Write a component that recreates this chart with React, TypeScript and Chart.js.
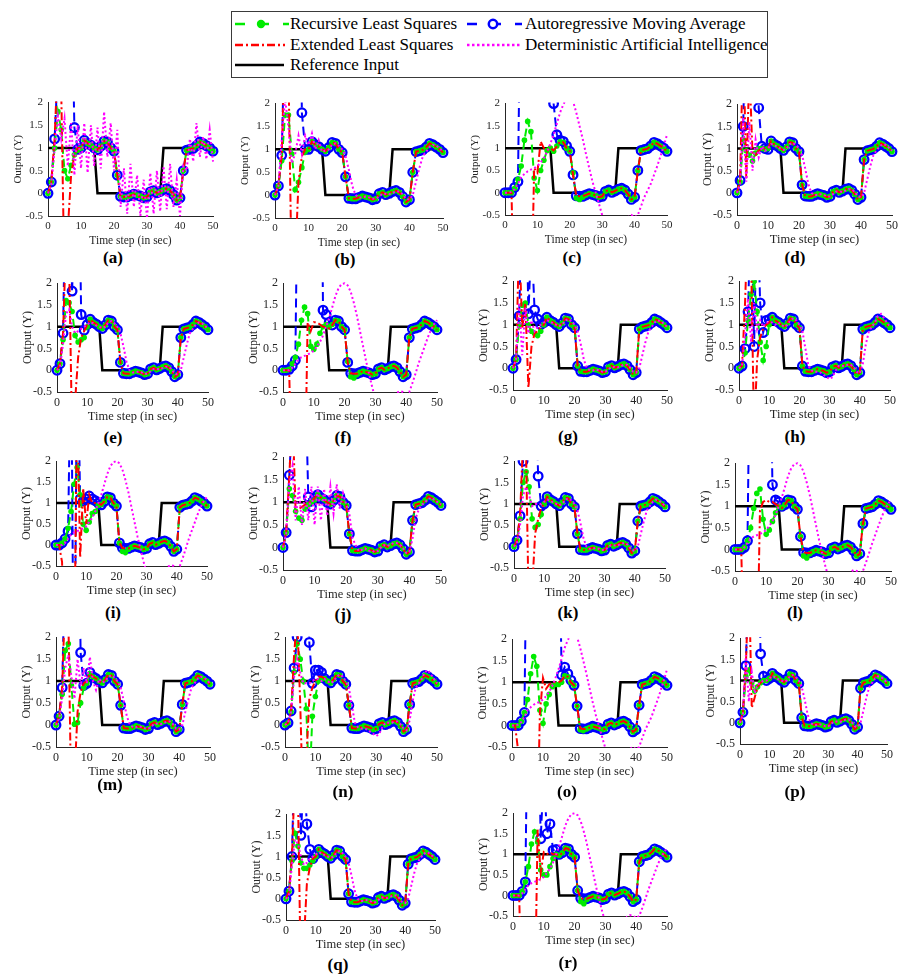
import React, { useEffect, useRef } from "react";
import { Chart, registerables } from "chart.js";

Chart.register(...registerables);

// ---------------- DATA ----------------
const TIME = [0,1,2,3,4,5,6,7,8,9,10,11,12,13,14,15,16,17,18,19,20,21,22,23,24,25,26,27,28,29,30,31,32,33,34,35,36,37,38,39,40,41,42,43,44,45,46,47,48,49,50];
const X_TICKS = [0, 10, 20, 30, 40, 50];
const Y_TICKS = [-0.5, 0, 0.5, 1, 1.5, 2];

const REFERENCE = [1,1,1,1,1,1,1,1,1,1,1,1,1,1,1, 0,0,0,0,0,0,0,0,0,0,0,0,0,0,0,0,0,0,0,0, 1,1,1,1,1,1,1,1,1,1,1,1,1,1,1,1];

// converged closed-loop response shared by RLS / ARMA / ELS after the transient
const CONVERGED = [0,0.2,0.85,1.1,1.05,1.0,0.98,1.0,1.0,0.96,1.0,
  1.17,1.1,1.06,1.0,0.96,1.04,1.15,1.13,1.0,0.93,
  0.4,-0.07,-0.08,-0.08,-0.05,-0.02,-0.04,-0.06,-0.1,-0.08,
  0.03,0.06,0.01,0.04,0.08,0.1,0.06,-0.03,-0.15,-0.1,
  0.5,0.95,0.97,0.99,1.05,1.13,1.1,1.05,1.0,0.93];
// value at t = 21 and t = 41 for each group of three panels
const DROP_21 = [0.4, 0.18, 0.05, 0.3, 0.45, 0.12];
const RISE_41 = [0.5, 0.75, 0.9, 0.6, 0.47, 0.82];

// DAI responses
const DAI_LAG = [0,0.1,0.6,1.2,1.3,1.1,0.95,0.95,1.0,1.0,1.05,
  1.1,1.08,1.03,1.0,0.97,1.0,1.1,1.13,1.08,1.0,
  0.85,0.55,0.2,0.0,-0.05,-0.05,-0.03,-0.05,-0.08,-0.08,
  -0.03,0.03,0.03,0.02,0.05,0.08,0.08,0.02,-0.08,-0.1,
  0.0,0.3,0.6,0.85,0.95,1.05,1.1,1.08,1.02,0.95];
const DAI_OVER = [0,0.05,0.8,1.6,0.6,1.5,0.9,1.1,0.95,1.05,1.05,
  1.05,1.0,1.05,1.0,0.95,1.0,1.1,1.15,1.1,1.0,
  0.85,0.45,0.05,-0.05,-0.08,-0.08,-0.1,-0.15,-0.2,-0.25,
  -0.2,-0.05,0.05,0.05,0.05,0.08,0.08,0.02,-0.08,-0.12,
  0.1,0.55,0.85,0.95,1.05,1.2,1.25,1.15,1.05,0.95];
const DAI_A = [0,0.2,1.0,1.7,1.2,1.65,0.6,1.55,0.4,1.5,0.55,
  1.55,0.45,1.5,0.6,1.45,0.55,1.8,0.8,1.55,0.5,
  1.4,-0.3,0.55,-0.45,0.65,-0.3,0.4,-0.5,0.3,-0.55,
  0.45,-0.45,0.5,-0.4,0.6,-0.35,0.65,-0.3,0.3,-0.5,
  0.6,0.5,1.2,0.7,1.55,0.8,1.25,0.75,1.4,0.7];
const DAI_J = [0,0.3,1.4,1.8,0.6,1.35,0.5,1.3,0.6,1.35,0.5,
  1.35,0.6,1.3,0.7,1.35,0.75,1.4,0.85,1.2,0.95,
  0.75,0.2,0.05,-0.08,-0.05,-0.02,-0.08,-0.06,-0.1,-0.08,
  0.0,0.05,0.03,0.06,0.1,0.1,0.06,-0.02,-0.12,-0.1,
  0.2,0.65,0.85,0.95,1.0,1.08,1.1,1.05,1.0,0.95];
const WAVE_C = [0,0,0.02,0.08,0.2,0.35,0.42,0.48,0.52,0.55,0.6,
  0.68,0.78,0.92,1.1,1.3,1.55,1.8,1.98,2.12,2.15,
  2.05,1.8,1.5,1.2,0.87,0.55,0.25,0.0,-0.25,-0.5,
  -0.72,-0.88,-0.95,-0.95,-0.88,-0.78,-0.65,-0.55,-0.5,-0.55,
  -0.5,-0.3,-0.1,0.05,0.2,0.4,0.6,0.82,1.05,1.3];
const WAVE_F = [0,0,0,0.05,0.15,0.25,0.3,0.33,0.36,0.4,0.45,
  0.55,0.65,0.8,1.0,1.2,1.45,1.7,1.88,1.98,2.0,
  1.95,1.8,1.55,1.25,0.9,0.55,0.2,-0.1,-0.4,-0.65,
  -0.82,-0.92,-0.95,-0.9,-0.8,-0.65,-0.52,-0.48,-0.5,-0.55,
  -0.5,-0.3,-0.08,0.15,0.35,0.55,0.75,0.92,1.05,1.15];

// transients per panel (t = 0, 1, 2, ...), then the group's converged response
const RLS_A = [0,0.25,1.0,1.8,1.4,0.5,0.32,0.62,0.85,0.95,1.0];
const ARMA_A = [0,0.25,1.2,2.8,3.5,3.3,3.0,5.0,1.45,0.97,1.0];
const ELS_A = [0,0.25,1.2,3.0,2.3,-2.0,-0.8,0.4,0.85,1.0,1.0];

const RLS_B = [0,0.2,0.75,1.75,1.75,0.9,0.12,0.28,0.6,0.95,1.0];
const ARMA_B = [0,0.2,0.87,4,5,5,4.5,8,1.8,1.0,1.0];
const ELS_B = [0,0.2,0.87,3.5,2.8,-2.0,-1.5,0.3,0.85,1.0,1.0];
const DAI_B = [0,0.2,1.2,2.1,1.5,0.7,0.9,1.3,0.9,1.3,1.1,1.35,1.0,1.2,0.95];

const RLS_C = [0,0,0,0.1,0.3,0.6,1.18,1.6,1.37,0.33,0.05,0.5,0.73,0.95,1.0,0.93,1.05,1.15,1.13,1.0,0.93,0.45,-0.12,-0.15,-0.1];
const ARMA_C = [0,0,0,0.12,0.25,6,8,8,8,8,8,8,8,8,8,2.0,1.3,1.18,1.15,1.05,0.93];
const ELS_C = [0,0,0,-3,-4,-4,-4,-3.5,-3,0.55,0.45,1.15,1.0,0.95,1.0,0.95];

const RLS_D = [0,0.25,1.2,0.95,0.85,0.72,0.9,1.0,1.0,0.98,1.0];
const ARMA_D = [0,0.28,1.5,5,6,6,5,1.92,1.05,1.0,0.98];
const ELS_D = [0,0.28,3.5,0.3,2.8,0.9,0.85,0.95,1.0,1.0,1.0];
const DAI_D = [0,0.2,1.7,0.25,1.6,0.5,1.2,0.8,1.05,0.95,1.0];

const RLS_E = [0,0.15,0.7,1.6,1.55,1.35,0.8,0.65,0.7,0.75,1.0];
const ARMA_E = [0,0.15,0.85,5,5,1.82,4,6,1.28,0.92,1.05];
const ELS_E = [0,0.15,0.85,3.0,2.5,-1.5,-0.7,0.3,0.75,0.9,1.05];
const DAI_E = [0,0.1,0.6,1.3,1.4,1.0,0.85,0.9,0.95,1.0,1.05];

const RLS_F = [0,0,0.02,0.15,0.3,0.6,1.15,1.45,1.3,0.55,0.48,0.6,0.85,1.0,1.05,1.0,1.05,1.15,1.13,1.0,0.93,0.2,-0.15,-0.18,-0.1];
const ARMA_F = [0,0,0.02,0.1,0.23,6,8,8,8,8,8,8,8,1.38,1.28,1.1];
const ELS_F = [0,0,0,-3,-4,-4,-4,-3,1.1,0.9,1.1,1.1,1.05,1.0];

const RLS_G = [0,0.2,1.0,1.45,1.5,1.0,0.85,0.8,0.75,0.85,1.0];
const ARMA_G = [0,0.2,1.2,4,5,1.25,3,1.34,1.13,1.0,1.05];
const ELS_G = [0,0.2,3.0,0.9,1.5,-0.45,0.5,0.8,0.85,0.95,1.0];
const DAI_G = [0,0.2,1.5,0.3,1.4,0.8,1.1,0.85,0.95,1.0,1.05];

const RLS_H = [0,0.05,0.35,1.1,1.7,2.0,1.3,0.6,0.18,0.5,1.0];
const ARMA_H = [0,0.05,0.45,1.3,4,0.5,4,1.5,0.82,1.1,1.12];
const ELS_H = [0,0.05,1.5,3.5,2.5,-1.5,0.2,0.7,0.9,1.0,1.05];
const DAI_H = [0,0.05,0.8,1.6,0.6,1.5,0.9,1.1,0.95,1.05,1.05];

const RLS_I = [0,0,0.05,0.15,0.4,0.8,1.45,1.85,1.2,0.5,0.35,0.55,0.75,0.8,0.95,0.97,1.04,1.15,1.13,1.0,0.93,0.05,-0.15,-0.18,-0.1];
const ARMA_I = [0,0,0.05,0.15,0.33,5,-5,5,1.1,1.05,1.1];
const ELS_I = [0,0,-0.4,-3,-3,-3,-3,3.5,-0.3,1.35,0.5,1.2,1.0,1.0];

const RLS_J = [0,0.33,1.3,1.15,0.8,0.65,0.6,0.85,0.95,1.0,1.05];
const ARMA_J = [0,0.33,1.6,3,4,5,5,4,1.12,0.9,1.1];
const ELS_J = [0,0.33,1.6,3.0,0.8,0.85,0.9,0.95,1.0,1.0,1.1];

const RLS_K = [0,0.15,0.65,1.5,1.75,1.4,0.65,0.45,0.52,0.75,1.0];
const ARMA_K = [0,0.15,0.72,2.0,4,5,5,4,1.65,0.95,1.0];
const ELS_K = [0,0.15,0.72,2.5,2.2,-2.0,-1.0,0.3,0.65,0.9,1.0];
const DAI_K = [0,0.1,0.5,1.2,1.4,1.2,0.95,1.0,1.0,1.0,1.05];

const RLS_L = [0,0,0,0.05,0.2,0.5,0.95,1.3,1.4,0.7,0.35,0.45,0.65,0.85,1.0,0.97,1.04,1.15,1.13,1.0,0.93,0.3,-0.15,-0.2,-0.1];
const ARMA_L = [0,0,0,0.05,0.2,6,8,8,8,8,8,6,1.5,1.15,1.1,1.0];
const ELS_L = [0,0,0,-3,-4,-4,-4,-3,0.9,1.1,1.15,1.1,1.1,1.05,1.0];

const RLS_M = [0,0.2,0.7,1.7,1.85,0.9,0.02,0.05,0.5,0.85,0.95];
const ARMA_M = [0,0.2,0.85,4,5,5,5,6,1.65,0.9,0.95,1.2];
const ELS_M = [0,0.2,0.85,3.0,2.5,-2.0,-1.2,0.3,0.75,0.95,1.0];
const DAI_M = [0,0.15,0.6,1.3,1.6,1.1,0.6,1.5,0.9,1.3,0.95,1.55,1.0,0.8,1.05];

const RLS_N = [0,0.05,0.3,1.2,1.85,1.5,1.0,0.37,-1.5,0.2,0.65,1.0,1.05];
const ARMA_N = [0,0.05,0.32,1.3,2.0,5,5,5,1.88,0.95,1.25,1.25,1.2];
const ELS_N = [0,0.05,0.3,1.6,2.5,0.5,-2.0,-0.8,0.6,0.85,1.0,1.1];
const DAI_N = [0,0.05,0.3,1.1,1.5,1.2,0.95,0.95,0.95,1.0,1.05];

const RLS_O = [0,0,0,0.1,0.3,0.6,1.2,1.6,1.37,0.35,0.05,0.5,0.72,0.9,0.95,0.95,1.0,1.15,1.13,1.0,0.93,0.45,-0.1,-0.12,-0.08];
const ARMA_O = [0,0,0,0.1,0.3,6,8,8,8,8,8,8,8,8,8,6,1.17,1.35,1.2,1.05,0.93];
const ELS_O = [0,0,-0.6,-3,-4,-4,-4,-4,-3,0.3,1.1,0.85,0.95,1.0,1.0,1.0];

const RLS_P = [0,0.25,1.1,1.25,0.95,0.75,0.85,0.95,1.0,1.0,1.05];
const ARMA_P = [0,0.25,1.35,4,5,5,5,1.63,1.1,1.0,1.05];
const ELS_P = [0,0.25,1.35,3.5,0.35,0.6,0.85,0.95,1.0,1.0,1.0];
const DAI_P = [0,0.2,1.6,0.5,1.2,0.7,0.9,0.95,1.0,1.0,1.05];

const RLS_Q = [0,0.18,0.9,1.55,1.25,0.85,0.72,0.72,0.8,0.9,1.0];
const ARMA_Q = [0,0.18,1.0,4,4,1.5,3,1.77,1.17,0.95,1.05];
const ELS_Q = [0,0.18,1.0,3.0,2.5,-2.0,-1.0,0.35,0.75,0.95,1.0];
const DAI_Q = [0,0.1,0.8,1.4,1.3,1.0,0.8,0.85,0.95,1.0,1.05];

const RLS_R = [0,0,0,0.1,0.33,0.7,1.25,1.55,1.3,0.62,0.5,0.5,0.7,0.9,1.0,0.97,1.04,1.15,1.13,1.0,0.93,0.12,-0.15,-0.2,-0.1];
const ARMA_R = [0,0,0,0.1,0.33,6,8,8,5,1.38,3,1.5,1.74,1.1,1.12,1.0];
const ELS_R = [0,0,0,-3,-4,-4,-4,-3,1.6,0.55,1.05,1.0,1.05,1.0];

type PanelData = { id: string; group: number; rls: number[]; arma: number[]; els: number[]; dai: number[]; daiTail: number[] };

const PANELS: PanelData[] = [
  { id: "a", group: 0, rls: RLS_A, arma: ARMA_A, els: ELS_A, dai: DAI_A, daiTail: DAI_A },
  { id: "b", group: 0, rls: RLS_B, arma: ARMA_B, els: ELS_B, dai: DAI_B, daiTail: DAI_LAG },
  { id: "c", group: 0, rls: RLS_C, arma: ARMA_C, els: ELS_C, dai: WAVE_C, daiTail: WAVE_C },
  { id: "d", group: 1, rls: RLS_D, arma: ARMA_D, els: ELS_D, dai: DAI_D, daiTail: DAI_LAG },
  { id: "e", group: 1, rls: RLS_E, arma: ARMA_E, els: ELS_E, dai: DAI_E, daiTail: DAI_LAG },
  { id: "f", group: 1, rls: RLS_F, arma: ARMA_F, els: ELS_F, dai: WAVE_F, daiTail: WAVE_F },
  { id: "g", group: 2, rls: RLS_G, arma: ARMA_G, els: ELS_G, dai: DAI_G, daiTail: DAI_LAG },
  { id: "h", group: 2, rls: RLS_H, arma: ARMA_H, els: ELS_H, dai: DAI_H, daiTail: DAI_OVER },
  { id: "i", group: 2, rls: RLS_I, arma: ARMA_I, els: ELS_I, dai: WAVE_F, daiTail: WAVE_F },
  { id: "j", group: 3, rls: RLS_J, arma: ARMA_J, els: ELS_J, dai: DAI_J, daiTail: DAI_J },
  { id: "k", group: 3, rls: RLS_K, arma: ARMA_K, els: ELS_K, dai: DAI_K, daiTail: DAI_LAG },
  { id: "l", group: 3, rls: RLS_L, arma: ARMA_L, els: ELS_L, dai: WAVE_F, daiTail: WAVE_F },
  { id: "m", group: 4, rls: RLS_M, arma: ARMA_M, els: ELS_M, dai: DAI_M, daiTail: DAI_LAG },
  { id: "n", group: 4, rls: RLS_N, arma: ARMA_N, els: ELS_N, dai: DAI_N, daiTail: DAI_OVER },
  { id: "o", group: 4, rls: RLS_O, arma: ARMA_O, els: ELS_O, dai: WAVE_C, daiTail: WAVE_C },
  { id: "p", group: 5, rls: RLS_P, arma: ARMA_P, els: ELS_P, dai: DAI_P, daiTail: DAI_LAG },
  { id: "q", group: 5, rls: RLS_Q, arma: ARMA_Q, els: ELS_Q, dai: DAI_Q, daiTail: DAI_LAG },
  { id: "r", group: 5, rls: RLS_R, arma: ARMA_R, els: ELS_R, dai: WAVE_F, daiTail: WAVE_F },
];

// ---------------- LAYOUT (page pixels) ----------------
// l: y-axis x, r: right end of x-axis, t: y=2 level, b: y=-0.5 level, lx/ly: centre of "(x)" label, fs: font size
const LAYOUT = [
  { l: 48, r: 213, t: 99, b: 216, lx: 113, ly: 258, fs: 11 },
  { l: 275, r: 443, t: 100, b: 218, lx: 345, ly: 260, fs: 11 },
  { l: 505, r: 667, t: 100, b: 215, lx: 572, ly: 258, fs: 11 },
  { l: 737, r: 892, t: 100, b: 215, lx: 795, ly: 258, fs: 12 },
  { l: 57, r: 208, t: 279, b: 392, lx: 113, ly: 438, fs: 12 },
  { l: 283, r: 437, t: 279, b: 392, lx: 343, ly: 438, fs: 12 },
  { l: 513, r: 667, t: 277, b: 390, lx: 568, ly: 437, fs: 12 },
  { l: 739, r: 890, t: 277, b: 390, lx: 795, ly: 437, fs: 12 },
  { l: 56, r: 207, t: 457, b: 566, lx: 113, ly: 613, fs: 12 },
  { l: 283, r: 441, t: 453, b: 570, lx: 343, ly: 615, fs: 12 },
  { l: 514, r: 665, t: 457, b: 568, lx: 568, ly: 613, fs: 12 },
  { l: 735, r: 891, t: 459, b: 571, lx: 795, ly: 613, fs: 12 },
  { l: 56, r: 210, t: 633, b: 747, lx: 110, ly: 785, fs: 12 },
  { l: 285, r: 437, t: 633, b: 747, lx: 343, ly: 792, fs: 12 },
  { l: 512, r: 667, t: 635, b: 747, lx: 567, ly: 792, fs: 12 },
  { l: 740, r: 887, t: 634, b: 744, lx: 795, ly: 792, fs: 12 },
  { l: 286, r: 435, t: 810, b: 920, lx: 338, ly: 965, fs: 12 },
  { l: 513, r: 667, t: 809, b: 916, lx: 568, ly: 963, fs: 12 },
];

const YW = 36; // y-axis box width
const XH = 32; // x-axis box height
const PT = 8;
const PR = 10;

const FONT = "'Liberation Serif', 'Times New Roman', Times, serif";
const AXIS_COLOR = "#262626";
const GREEN = "rgb(0,235,0)";
const BLUE = "#0000ff";
const RED = "#ff0000";
const MAGENTA = "#ff00ff";

function compose(early: number[], tail: number[]): number[] {
  return tail.map((v, i) => (i < early.length ? early[i] : v));
}
function groupTail(g: number): number[] {
  return CONVERGED.map((v, i) => (i === 21 ? DROP_21[g] : i === 41 ? RISE_41[g] : v));
}
function pts(ys: number[]) {
  return ys.map((y, i) => ({ x: TIME[i], y }));
}

function buildConfig(p: PanelData, fs: number): any {
  const tail = groupTail(p.group);
  const clip = { left: 7, right: 7, top: 1, bottom: 1 };
  const common = { fill: false, tension: 0, clip, pointHoverRadius: 0 };
  return {
    type: "line",
    data: {
      datasets: [
        { ...common, label: "Deterministic Artificial Intelligence", data: pts(compose(p.dai, p.daiTail)), borderColor: MAGENTA, borderWidth: 2, borderDash: [2, 2.5], pointRadius: 0, order: 0 },
        { ...common, label: "Extended Least Squares", data: pts(compose(p.els, tail)), borderColor: RED, borderWidth: 2, borderDash: [8, 3, 2, 3], pointRadius: 0, order: 1 },
        { ...common, label: "Recursive Least Squares", data: pts(compose(p.rls, tail)), borderColor: GREEN, borderWidth: 2, borderDash: [8, 5], pointRadius: 2.8, pointBorderWidth: 0, pointBackgroundColor: GREEN, pointBorderColor: GREEN, order: 2 },
        { ...common, label: "Autoregressive Moving Average", data: pts(compose(p.arma, tail)), borderColor: BLUE, borderWidth: 2, borderDash: [9, 5], pointRadius: 4.3, pointBorderWidth: 2.3, pointBackgroundColor: "rgba(255,255,255,0)", pointBorderColor: BLUE, order: 3 },
        { ...common, label: "Reference Input", data: pts(REFERENCE), borderColor: "#000000", borderWidth: 2.5, pointRadius: 0, order: 4 },
      ],
    },
    options: {
      responsive: false,
      maintainAspectRatio: false,
      animation: false,
      devicePixelRatio: 1,
      events: [],
      layout: { padding: { top: PT, right: PR, left: 0, bottom: 0 } },
      plugins: { legend: { display: false }, tooltip: { enabled: false }, title: { display: false } },
      scales: {
        x: {
          type: "linear",
          min: 0,
          max: 50,
          grid: { display: false, drawTicks: false, tickLength: 0 },
          border: { display: true, color: AXIS_COLOR, width: 1 },
          afterBuildTicks: (s: any) => { s.ticks = X_TICKS.map((v) => ({ value: v })); },
          ticks: { padding: 4, color: AXIS_COLOR, maxRotation: 0, autoSkip: false, font: { family: FONT, size: fs }, callback: (v: any) => String(v) },
          title: { display: true, text: "Time step (in sec)", color: AXIS_COLOR, padding: { top: 0, bottom: 0 }, font: { family: FONT, size: fs + 0.5 } },
          afterFit: (s: any) => { s.height = XH; },
        },
        y: {
          type: "linear",
          min: -0.5,
          max: 2,
          grid: { display: false, drawTicks: false, tickLength: 0 },
          border: { display: true, color: AXIS_COLOR, width: 1 },
          afterBuildTicks: (s: any) => { s.ticks = Y_TICKS.map((v) => ({ value: v })); },
          ticks: { padding: 5, color: AXIS_COLOR, autoSkip: false, font: { family: FONT, size: fs }, callback: (v: any) => String(v) },
          title: { display: true, text: "Output (Y)", color: AXIS_COLOR, padding: { top: 0, bottom: 0 }, font: { family: FONT, size: fs } },
          afterFit: (s: any) => { s.width = YW; },
        },
      },
    },
  };
}

function Panel({ p, box }: { p: PanelData; box: any }) {
  const ref = useRef<HTMLCanvasElement>(null);
  const w = YW + (box.r - box.l) + PR;
  const h = PT + (box.b - box.t) + XH;
  useEffect(() => {
    if (!ref.current) return;
    const chart = new Chart(ref.current, buildConfig(p, box.fs));
    return () => chart.destroy();
  }, []);
  return (
    <>
      <canvas
        ref={ref}
        width={w}
        height={h}
        style={{ position: "absolute", left: box.l - YW, top: box.t - PT, width: w, height: h }}
      />
      <div
        style={{
          position: "absolute",
          left: box.lx,
          top: box.ly,
          transform: "translate(-50%, -50%)",
          fontFamily: FONT,
          fontWeight: "bold",
          fontSize: 17,
          lineHeight: "20px",
          whiteSpace: "nowrap",
          color: "#000",
        }}
      >
        ({p.id})
      </div>
    </>
  );
}

function Swatch({ kind }: { kind: string }) {
  const w = 56;
  const y = 8;
  let content: any = null;
  if (kind === "rls") {
    content = (
      <>
        <line x1={0} y1={y} x2={54} y2={y} stroke={GREEN} strokeWidth={2.5} strokeDasharray="10 14" />
        <circle cx={26} cy={y} r={4.2} fill={GREEN} />
      </>
    );
  } else if (kind === "arma") {
    content = (
      <>
        <line x1={0} y1={y} x2={55} y2={y} stroke={BLUE} strokeWidth={2.5} strokeDasharray="10 14" />
        <circle cx={26} cy={y} r={4.2} fill="#ffffff" stroke={BLUE} strokeWidth={2.5} />
      </>
    );
  } else if (kind === "els") {
    content = <line x1={0} y1={y} x2={50} y2={y} stroke={RED} strokeWidth={2.5} strokeDasharray="8 3 2 3" />;
  } else if (kind === "dai") {
    content = <line x1={0} y1={y} x2={54} y2={y} stroke={MAGENTA} strokeWidth={2.5} strokeDasharray="2.5 2.5" />;
  } else {
    content = <line x1={0} y1={y} x2={49} y2={y} stroke="#000000" strokeWidth={2.5} />;
  }
  return (
    <svg width={w} height={16} style={{ display: "block" }}>
      {content}
    </svg>
  );
}

const LEGEND_ITEMS = [
  { kind: "rls", text: "Recursive Least Squares", col: 0, row: 0 },
  { kind: "arma", text: "Autoregressive Moving Average", col: 1, row: 0 },
  { kind: "els", text: "Extended Least Squares", col: 0, row: 1 },
  { kind: "dai", text: "Deterministic Artificial Intelligence", col: 1, row: 1 },
  { kind: "ref", text: "Reference Input", col: 0, row: 2 },
];

function Legend() {
  const rowY = [24, 45, 65];
  const swX = [235, 467];
  const txX = [290, 525];
  return (
    <>
      <div
        style={{
          position: "absolute",
          left: 231,
          top: 11,
          width: 537,
          height: 67,
          boxSizing: "border-box",
          border: "1px solid #3a3a3a",
          background: "#fff",
        }}
      />
      {LEGEND_ITEMS.map((it) => (
        <React.Fragment key={it.text}>
          <div style={{ position: "absolute", left: swX[it.col], top: rowY[it.row] - 8 }}>
            <Swatch kind={it.kind} />
          </div>
          <div
            style={{
              position: "absolute",
              left: txX[it.col],
              top: rowY[it.row],
              transform: "translateY(-50%)",
              fontFamily: FONT,
              fontSize: 17,
              lineHeight: "20px",
              whiteSpace: "nowrap",
              color: "#000",
            }}
          >
            {it.text}
          </div>
        </React.Fragment>
      ))}
    </>
  );
}

export default function App() {
  return (
    <div style={{ position: "absolute", left: 0, top: 0, width: 898, height: 975, background: "#fff", overflow: "hidden" }}>
      <Legend />
      {PANELS.map((p, i) => (
        <Panel key={p.id} p={p} box={LAYOUT[i]} />
      ))}
    </div>
  );
}
